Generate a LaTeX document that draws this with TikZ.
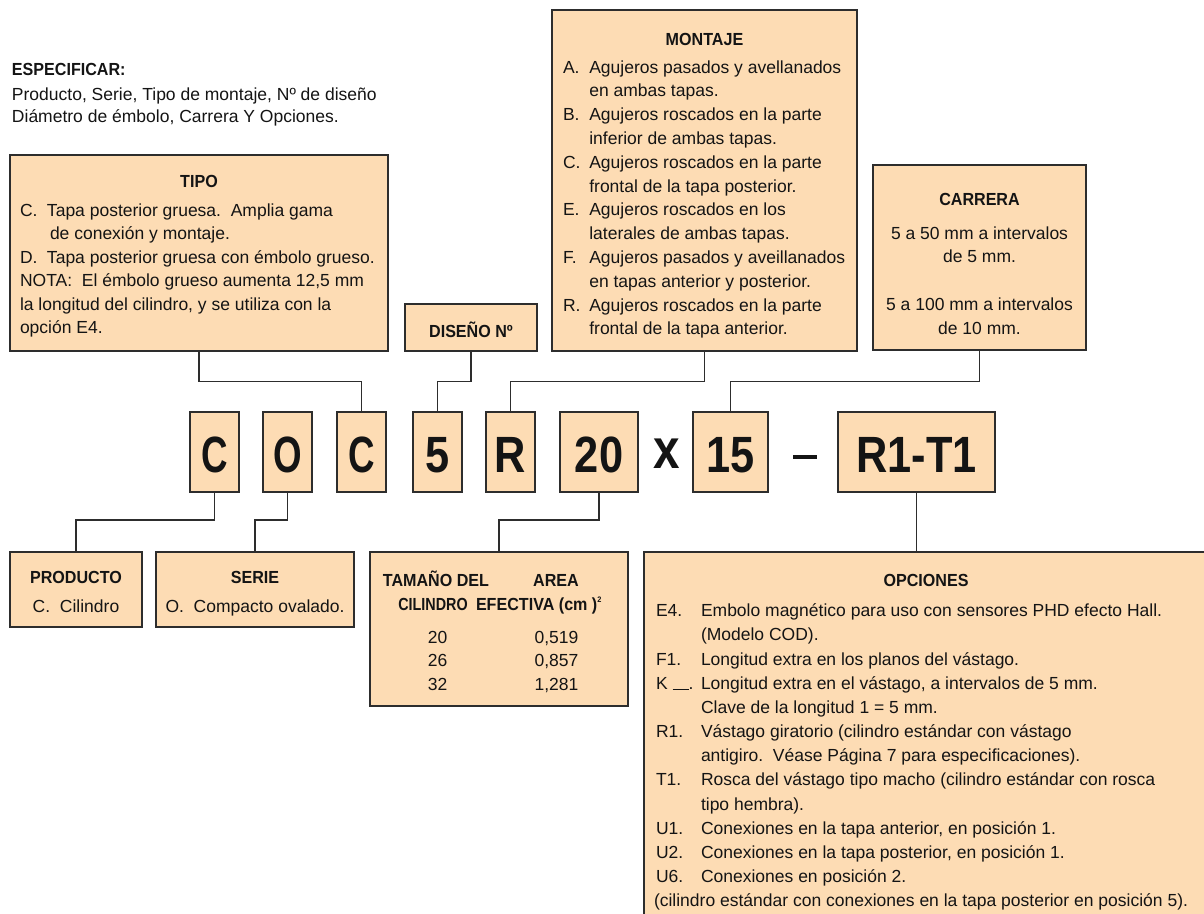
\documentclass[tikz,border=0pt]{standalone}
\usepackage{fontspec}
\setmainfont{Liberation Sans}
\newfontfamily\hdf[FakeStretch=0.92]{Liberation Sans}
\newfontfamily\hdn[FakeStretch=0.82]{Liberation Sans}
\newfontfamily\bigA[FakeStretch=0.72]{Liberation Sans}
\newfontfamily\bigB[FakeStretch=0.85]{Liberation Sans}
\definecolor{peach}{RGB}{253,220,180}
\definecolor{linec}{RGB}{45,45,45}
\definecolor{txtc}{RGB}{20,20,20}
\newcommand\fsn{\fontsize{17.5}{23.6}\selectfont}
\newcommand\lab[2]{\makebox[#1][l]{#2}}
\tikzset{
 box/.style={draw=linec, line width=1.3pt, fill=peach, anchor=north west, inner sep=0pt, outer sep=0pt},
 cbox/.style={box, minimum height=80pt, text height=41pt, text depth=0pt, text=txtc, font=\bigB\bfseries\fontsize{51}{51}\selectfont},
 cboxa/.style={cbox, font=\bigA\bfseries\fontsize{51}{51}\selectfont},
 txt/.style={inner sep=0pt, outer sep=0pt, text=txtc, font=\fsn},
 hd/.style={inner sep=0pt, outer sep=0pt, text=txtc, font=\hdf\bfseries\fontsize{17.5}{23.5}\selectfont},
 hdnar/.style={hd, font=\hdn\bfseries\fontsize{17.5}{23.5}\selectfont},
 conn/.style={draw=linec, line width=1.3pt},
}
\begin{document}
\begin{tikzpicture}[x=1pt,y=-1pt]
\useasboundingbox (0,0) rectangle (1204,913);
\clip (0,0) rectangle (1204,913);

% ESPECIFICAR
\node[hd, anchor=base west] (esp) at (12,75) {ESPECIFICAR:};
\node[txt, anchor=base west] (esptxt) at (12,100) {\fontsize{17.5}{22.3}\selectfont\begin{tabular}[t]{@{}l@{}}
Producto, Serie, Tipo de montaje, Nº de diseño\\
Diámetro de émbolo, Carrera Y Opciones.
\end{tabular}};

% boxes
\node[box, minimum width=378pt, minimum height=196pt] (tipo) at (10,155) {};
\node[box, minimum width=132pt, minimum height=47pt] (dis) at (405,304) {};
\node[box, minimum width=305pt, minimum height=341pt] (mon) at (552,10) {};
\node[box, minimum width=213pt, minimum height=185pt] (car) at (873,165) {};
\node[box, minimum width=132pt, minimum height=75pt] (prod) at (10,552) {};
\node[box, minimum width=198pt, minimum height=75pt] (serie) at (156,552) {};
\node[box, minimum width=258pt, minimum height=154pt] (tam) at (370,552) {};
\node[box, minimum width=580pt, minimum height=380pt] (opc) at (644,552) {};

% code boxes
\node[cboxa, minimum width=49pt] (c1) at (190,412) {C};
\node[cboxa, minimum width=49pt] (co) at (263,412) {O};
\node[cboxa, minimum width=49pt] (c2) at (337,412) {C};
\node[cbox, minimum width=49pt] (c5) at (413,412) {5};
\node[cbox, minimum width=49pt] (cr) at (486,412) {R};
\node[cbox, minimum width=78pt] (c20) at (560,412) {20};
\node[cbox, minimum width=75pt] (c15) at (693,412) {15};
\node[cbox, minimum width=157pt] (r1t1) at (838,412) {R1-T1};
\node[inner sep=0pt, text=txtc, font=\bigB\bfseries\fontsize{56}{56}\selectfont, anchor=base] (xx) at (667,468) {x};
\node[inner sep=0pt, fill=txtc, minimum width=24pt, minimum height=4.5pt] (dash) at (805,457) {};

% connectors
\draw[conn] (tipo.south) -- ++(0,30.5) -| (c2.north);
\draw[conn] (dis.south) -- ++(0,30.5) -| (c5.north);
\draw[conn] (mon.south) -- ++(0,30.5) -| (cr.north);
\draw[conn] (car.south) -- ++(0,31.5) -| (c15.north);
\draw[conn] (c1.south) -- ++(0,28) -| (prod.north);
\draw[conn] (co.south) -- ++(0,28) -| (serie.north);
\draw[conn] (c20.south) -- ++(0,28) -| (tam.north);
\draw[conn] (r1t1.south) -- (r1t1.south |- opc.north);

% TIPO
\node[hd, anchor=base] (tipoh) at (199,187) {TIPO};
\node[txt, anchor=base west] (tipotxt) at (20,216) {\fontsize{17.5}{23.5}\selectfont\begin{tabular}[t]{@{}l@{}}
\lab{27pt}{C.}Tapa posterior gruesa.\ \ Amplia gama\\
\hspace*{30pt}de conexión y montaje.\\
\lab{27pt}{D.}Tapa posterior gruesa con émbolo grueso.\\
NOTA:\ \ El émbolo grueso aumenta 12,5 mm\\
la longitud del cilindro, y se utiliza con la\\
opción E4.
\end{tabular}};

% DISEÑO
\node[hd, anchor=base] (dish) at (471,337) {DISEÑO Nº};

% MONTAJE
\node[hd, anchor=base] (monh) at (704.5,45) {MONTAJE};
\node[txt, anchor=base west] (montxt) at (563,73) {\fontsize{17.5}{23.8}\selectfont\begin{tabular}[t]{@{}l@{}}
\lab{26.3pt}{A.}Agujeros pasados y avellanados\\
\hspace*{26.3pt}en ambas tapas.\\
\lab{26.3pt}{B.}Agujeros roscados en la parte\\
\hspace*{26.3pt}inferior de ambas tapas.\\
\lab{26.3pt}{C.}Agujeros roscados en la parte\\
\hspace*{26.3pt}frontal de la tapa posterior.\\
\lab{26.3pt}{E.}Agujeros roscados en los\\
\hspace*{26.3pt}laterales de ambas tapas.\\
\lab{26.3pt}{F.}Agujeros pasados y aveillanados\\
\hspace*{26.3pt}en tapas anterior y posterior.\\
\lab{26.3pt}{R.}Agujeros roscados en la parte\\
\hspace*{26.3pt}frontal de la tapa anterior.
\end{tabular}};

% CARRERA
\node[hd, anchor=base] (carh) at (979.5,205) {CARRERA};
\node[txt, anchor=base] (cartxt) at (979.5,239) {\fontsize{17.5}{23.75}\selectfont\begin{tabular}[t]{@{}c@{}}
5 a 50 mm a intervalos\\
de 5 mm.\\
\\
5 a 100 mm a intervalos\\
de 10 mm.
\end{tabular}};

% PRODUCTO, SERIE
\node[hd, anchor=base] (prodh) at (76,583.5) {PRODUCTO};
\node[txt, anchor=base] (prodt) at (76,612) {C.\ \ Cilindro};
\node[hd, anchor=base] (serieh) at (255,583.5) {SERIE};
\node[txt, anchor=base] (seriet) at (255,612) {O.\ \ Compacto ovalado.};

% TAMAÑO
\node[hd, anchor=base] (tamh1) at (436,586.7) {TAMAÑO DEL};
\node[hdnar, anchor=base] (tamh2) at (433,610) {CILINDRO};
\node[hd, anchor=base] (areah1) at (556,586.7) {AREA};
\node[hd, anchor=base west] (areah2) at (476,610) {EFECTIVA (cm\ )\raisebox{8pt}{\fontsize{8}{8}\selectfont 2}};
\node[txt, anchor=base] (v1a) at (437.5,643) {20};
\node[txt, anchor=base] (v2a) at (437.5,666.5) {26};
\node[txt, anchor=base] (v3a) at (437.5,690) {32};
\node[txt, anchor=base] (v1b) at (556.5,643) {0,519};
\node[txt, anchor=base] (v2b) at (556.5,666.5) {0,857};
\node[txt, anchor=base] (v3b) at (556.5,690) {1,281};

% OPCIONES
\node[hd, anchor=base] (opch) at (926,586) {OPCIONES};
\node[txt, anchor=base west] (opctxt) at (656,616.7) {\fontsize{17.5}{24.17}\selectfont\begin{tabular}[t]{@{}l@{}}
\lab{45pt}{E4.}Embolo magnético para uso con sensores PHD efecto Hall.\\
\hspace*{45pt}(Modelo COD).\\
\lab{45pt}{F1.}Longitud extra en los planos del vástago.\\
\lab{45pt}{K \rule[-1pt]{16pt}{1pt}.}Longitud extra en el vástago, a intervalos de 5 mm.\\
\hspace*{45pt}Clave de la longitud 1 = 5 mm.\\
\lab{45pt}{R1.}Vástago giratorio (cilindro estándar con vástago\\
\hspace*{45pt}antigiro.\ \ Véase Página 7 para especificaciones).\\
\lab{45pt}{T1.}Rosca del vástago tipo macho (cilindro estándar con rosca\\
\hspace*{45pt}tipo hembra).\\
\lab{45pt}{U1.}Conexiones en la tapa anterior, en posición 1.\\
\lab{45pt}{U2.}Conexiones en la tapa posterior, en posición 1.\\
\lab{45pt}{U6.}Conexiones en posición 2.\\
\hspace*{-2pt}(cilindro estándar con conexiones en la tapa posterior en posición 5).
\end{tabular}};
\end{tikzpicture}
\end{document}
